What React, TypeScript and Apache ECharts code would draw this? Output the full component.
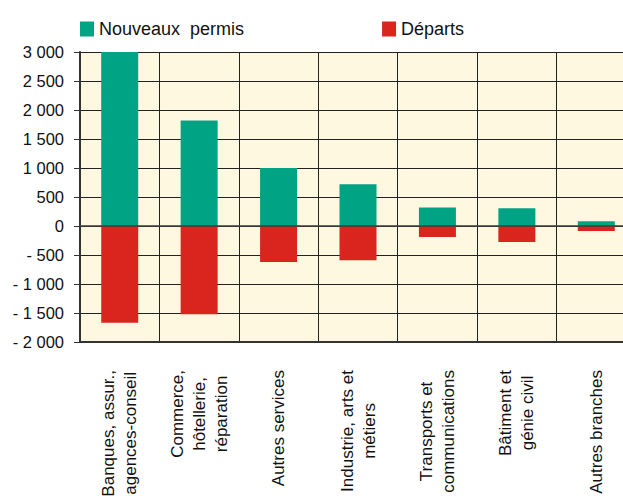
import React, { useEffect, useRef } from "react";
import * as echarts from "echarts";

const categories = [
  "Banques, assur.,\nagences-conseil",
  "Commerce,\nhôtellerie,\nréparation",
  "Autres services",
  "Industrie, arts et\nmétiers",
  "Transports et\ncommunications",
  "Bâtiment et\ngénie civil",
  "Autres branches",
];
const nouveauxPermis = [3000, 1820, 1000, 720, 320, 305, 80];
const departs = [-1670, -1520, -620, -590, -190, -275, -85];
const seriesNames = ["Nouveaux  permis", "Départs"];
const yMin = -2000;
const yMax = 3000;
const yStep = 500;

function formatTick(v: number): string {
  const abs = Math.abs(v);
  const s = String(abs).replace(/\B(?=(\d{3})+(?!\d))/g, " ");
  return v < 0 ? "- " + s : s;
}

export default function App() {
  const ref = useRef<HTMLDivElement>(null);
  useEffect(() => {
    if (!ref.current) return;
    const chart = echarts.init(ref.current, undefined, { renderer: "svg" });
    const font = "'Liberation Sans', Arial, sans-serif";
    chart.setOption({
      animation: false,
      backgroundColor: "#ffffff",
      legend: {
        left: 75,
        top: 15,
        itemWidth: 14,
        itemHeight: 15,
        itemGap: 138,
        icon: "rect",
        textStyle: { fontFamily: font, fontSize: 18, color: "#111" },
        data: seriesNames,
      },
      grid: {
        left: 80,
        top: 52,
        bottom: 160,
        right: 0,
        show: true,
        backgroundColor: "#FEF8E1",
        borderWidth: 0,
      },
      xAxis: {
        type: "category",
        data: categories,
        axisLine: { onZero: false, lineStyle: { color: "#333", width: 2 } },
        axisTick: { show: false },
        splitLine: { show: true, lineStyle: { color: "#222", width: 1 } },
        axisLabel: {
          interval: 0,
          rotate: 90,
          margin: 28,
          fontFamily: font,
          fontSize: 17,
          color: "#111",
          formatter: (v: string) =>
            v
              .split("\n")
              .map((l) => "{c|" + l + "}")
              .join("\n"),
          rich: {
            c: {
              align: "center",
              fontFamily: font,
              fontSize: 17,
              lineHeight: 22,
              color: "#111",
            },
          },
        },
      },
      yAxis: {
        type: "value",
        min: yMin,
        max: yMax,
        interval: yStep,
        axisLine: { show: true, lineStyle: { color: "#333", width: 2 } },
        axisTick: { show: true, length: 6, lineStyle: { color: "#333" } },
        splitLine: { show: true, lineStyle: { color: "#222", width: 1 } },
        axisLabel: {
          margin: 16,
          fontFamily: font,
          fontSize: 16.5,
          color: "#111",
          formatter: (v: number) => formatTick(v),
        },
      },
      series: [
        {
          name: seriesNames[0],
          type: "bar",
          stack: "total",
          barWidth: 37,
          itemStyle: { color: "#00A383" },
          data: nouveauxPermis,
        },
        {
          name: seriesNames[1],
          type: "bar",
          stack: "total",
          barWidth: 37,
          itemStyle: { color: "#DA251E" },
          data: departs,
          markLine: {
            silent: true,
            symbol: "none",
            label: { show: false },
            lineStyle: { color: "rgba(60,60,60,0.75)", width: 2, type: "solid" },
            data: [{ yAxis: 0 }],
          },
        },
      ],
    });
    return () => chart.dispose();
  }, []);
  return (
    <div
      style={{
        position: "fixed",
        left: 0,
        top: 0,
        width: 623,
        height: 502,
        overflow: "hidden",
      }}
    >
      <div ref={ref} style={{ width: 636, height: 502 }} />
    </div>
  );
}
